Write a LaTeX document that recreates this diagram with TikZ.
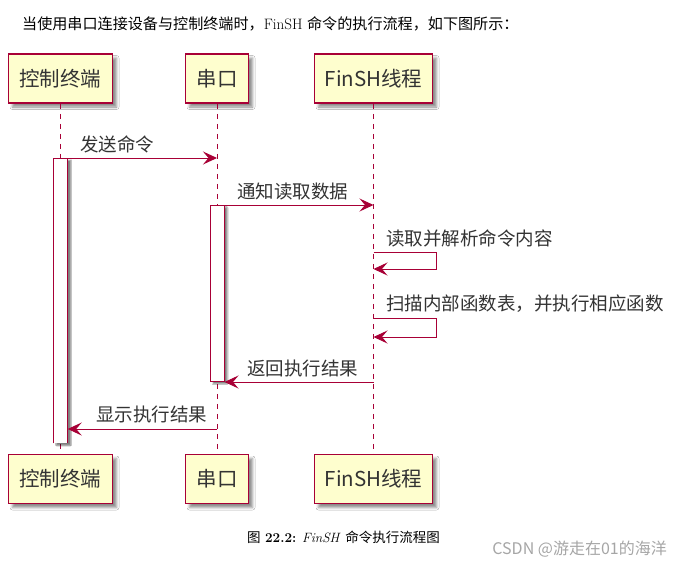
\documentclass[tikz,border=0pt]{standalone}
\usepackage{fontspec}
\newfontfamily\cjk{Noto Sans CJK SC}
\usepackage{tikz}
\usetikzlibrary{positioning, arrows.meta, shadows.blur}
\definecolor{umlred}{HTML}{A80036}
\definecolor{umlfill}{HTML}{FEFECE}

\begin{document}
\begin{tikzpicture}[
    x=1pt, y=-1pt,
    every node/.style={inner sep=0pt},
    part/.style={rectangle, draw=umlred, line width=1.5pt, fill=umlfill, minimum height=49pt, font=\cjk\fontsize{20.5}{24}\selectfont, text=black!80, blur shadow={shadow xshift=4pt, shadow yshift=-4pt, shadow blur radius=2.5pt, shadow opacity=45}},
    act/.style={rectangle, fill=white, minimum width=14pt, blur shadow={shadow xshift=3pt, shadow yshift=-2pt, shadow blur radius=1pt, shadow opacity=50}},
    lifeline/.style={draw=umlred, line width=1pt, dash pattern=on 5pt off 5pt},
    msg/.style={-{Stealth[length=14pt, width=13pt, inset=5.5pt]}, draw=umlred, line width=1pt},
    msgtext/.style={anchor=base west, font=\cjk\fontsize{18.5}{22}\selectfont, text=black!80}
]
\fill[white] (0,0) rectangle (683,566);
\useasboundingbox (0,0) rectangle (683,566);

% --- intro line ---
\node[anchor=base west, font=\fontsize{15.1}{17}\selectfont] (intro) at (22,29) {{\cjk 当使用串口连接设备与控制终端时，}FinSH {\cjk 命令的执行流程，如下图所示：}};

% --- participants ---
\node[part, minimum width=104pt] (term)  at (60.5,78.5) {控制终端};
\node[part, minimum width=63pt]  (uart)  at (217,78.5)  {串口};
\node[part, minimum width=118pt] (finsh) at (373.5,78.5) {FinSH线程};

\node[part, minimum width=104pt, below=350pt of term]  (term2)  {控制终端};
\node[part, minimum width=63pt,  below=350pt of uart]  (uart2)  {串口};
\node[part, minimum width=118pt, below=350pt of finsh] (finsh2) {FinSH线程};

% --- lifelines ---
\draw[lifeline] (term.south)  -- (term2.north);
\draw[lifeline] (uart.south)  -- (uart2.north);
\draw[lifeline] (finsh.south) -- (finsh2.north);

% --- activations ---
\node[act, anchor=north, minimum height=285pt] (actterm) at (term |- 0,158) {};
\draw[umlred, line width=1pt] (actterm.south west) -- (actterm.north west) -- (actterm.north east) -- (actterm.south east);
\node[act, anchor=north, minimum height=176pt, draw=umlred, line width=1pt] (actuart) at (uart |- 0,205) {};

% --- messages ---
\draw[msg] (actterm.north east) -- (actterm.north east -| uart);
\node[msgtext] (lsend) at (80,151) {发送命令};

\draw[msg] (actuart.north east) -- (actuart.north east -| finsh);
\node[msgtext] (lnotify) at (237,198) {通知读取数据};

\coordinate (parse)    at (finsh |- 0,252);
\coordinate (parseend) at (finsh |- 0,269);
\draw[msg] (parse) -- ++(63,0) |- (parseend);
\node[msgtext] (lparse) at (386,245) {读取并解析命令内容};

\coordinate (scan)    at (finsh |- 0,318);
\coordinate (scanend) at (finsh |- 0,337);
\draw[msg] (scan) -- ++(63,0) |- (scanend);
\node[msgtext] (lscan) at (386,310) {扫描内部函数表，并执行相应函数};

\draw[msg] (actuart.south east -| finsh) -- (actuart.south east);
\node[msgtext] (lreturn) at (247,375) {返回执行结果};

\coordinate (show) at (uart |- 0,429);
\draw[msg] (show) -- (show -| actterm.east);
\node[msgtext] (lshow) at (96,421) {显示执行结果};

% --- caption and mark ---
\node[anchor=base west, font=\fontsize{13.5}{16}\selectfont] (caption) at (247,542) {{\cjk 图}\ \textbf{22.2:} \textit{FinSH} {\cjk 命令执行流程图}};
\node[anchor=base east, font=\cjk\fontsize{16}{18}\selectfont, text=black!35] (mark) at (667,554) {CSDN @游走在01的海洋};
\end{tikzpicture}
\end{document}
